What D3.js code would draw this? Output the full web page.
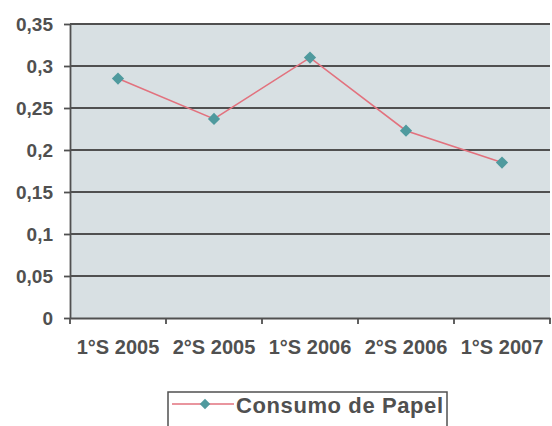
<!DOCTYPE html>
<html>
<head>
<meta charset="utf-8">
<script src="https://cdn.jsdelivr.net/npm/d3@7/dist/d3.min.js"></script>
<style>
  body { margin: 0; background: #fff; }
  svg { display: block; font-family: "Liberation Sans", Arial, sans-serif; font-weight: bold; }
</style>
</head>
<body>
<svg id="chart" width="552" height="426"></svg>
<script>
const categories = ["1°S 2005", "2°S 2005", "1°S 2006", "2°S 2006", "1°S 2007"];
const consumo = [0.285, 0.237, 0.31, 0.223, 0.185];
const yTicks = [0, 0.05, 0.1, 0.15, 0.2, 0.25, 0.3, 0.35];
const seriesName = "Consumo de Papel";

const margin = { top: 24, right: 2, bottom: 108, left: 70 };
const width = 552, height = 426;
const textColor = "#505050";
const gridColor = "#505050";

const svg = d3.select("#chart");
const innerW = width - margin.left - margin.right;
const innerH = height - margin.top - margin.bottom;
const g = svg.append("g").attr("transform", `translate(${margin.left},${margin.top})`);

const x = d3.scaleBand().domain(categories).range([0, innerW]);
const y = d3.scaleLinear().domain([0, 0.35]).range([innerH, 0]);
const fmt = (v) => d3.format("~g")(+v.toFixed(2)).replace(".", ",");

// plot area
g.append("rect")
    .attr("width", innerW)
    .attr("height", innerH)
    .attr("fill", "#d8e0e3");

// gridlines
g.selectAll(".grid")
    .data(yTicks.filter((d) => d > 0))
    .join("line")
    .attr("x1", 0)
    .attr("x2", innerW)
    .attr("y1", (d) => y(d))
    .attr("y2", (d) => y(d))
    .attr("stroke", gridColor)
    .attr("stroke-width", 1.8);

// y axis
const yAxis = g.append("g")
    .call(d3.axisLeft(y).tickValues(yTicks).tickFormat(fmt).tickSize(6).tickPadding(11).tickSizeOuter(0));
yAxis.select(".domain").attr("stroke", gridColor).attr("stroke-width", 1.8);
yAxis.selectAll(".tick line").attr("stroke", gridColor).attr("stroke-width", 1.8);
yAxis.selectAll("text").attr("fill", textColor).attr("font-size", 19).attr("font-weight", "bold");

// x axis with ticks at band edges
const xAxis = g.append("g")
    .attr("transform", `translate(0,${innerH})`)
    .call(d3.axisBottom(x).tickSize(0).tickPadding(22));
xAxis.select(".domain").attr("stroke", gridColor).attr("stroke-width", 1.8);
xAxis.selectAll("text").attr("fill", textColor).attr("font-size", 20).attr("font-weight", "bold");
xAxis.selectAll(".edge")
    .data(d3.range(categories.length + 1))
    .join("line")
    .attr("x1", (i) => i * x.bandwidth())
    .attr("x2", (i) => i * x.bandwidth())
    .attr("y1", 0)
    .attr("y2", 6)
    .attr("stroke", gridColor)
    .attr("stroke-width", 1.8);

// series
const cx = (i) => x(categories[i]) + x.bandwidth() / 2;
g.append("path")
    .datum(consumo)
    .attr("fill", "none")
    .attr("stroke", "#e2727e")
    .attr("stroke-width", 1.6)
    .attr("d", d3.line().x((d, i) => cx(i)).y((d) => y(d)));

const diamond = d3.symbol().type(d3.symbolDiamond2).size(95);
g.selectAll(".pt")
    .data(consumo)
    .join("path")
    .attr("transform", (d, i) => `translate(${cx(i)},${y(d)})`)
    .attr("d", diamond)
    .attr("fill", "#4f9a9e");

// legend
const legend = svg.append("g").attr("transform", "translate(168,392)");
legend.append("rect")
    .attr("width", 279)
    .attr("height", 40)
    .attr("fill", "#fff")
    .attr("stroke", gridColor)
    .attr("stroke-width", 1.5);
legend.append("line")
    .attr("x1", 4).attr("x2", 66).attr("y1", 12).attr("y2", 12)
    .attr("stroke", "#e2727e").attr("stroke-width", 1.6);
legend.append("path")
    .attr("transform", "translate(37,12)")
    .attr("d", d3.symbol().type(d3.symbolDiamond2).size(70))
    .attr("fill", "#4f9a9e");
legend.append("text")
    .attr("x", 68)
    .attr("y", 21)
    .attr("fill", textColor)
    .attr("font-size", 22)
    .attr("letter-spacing", 0.6)
    .text(seriesName);
</script>
</body>
</html>
